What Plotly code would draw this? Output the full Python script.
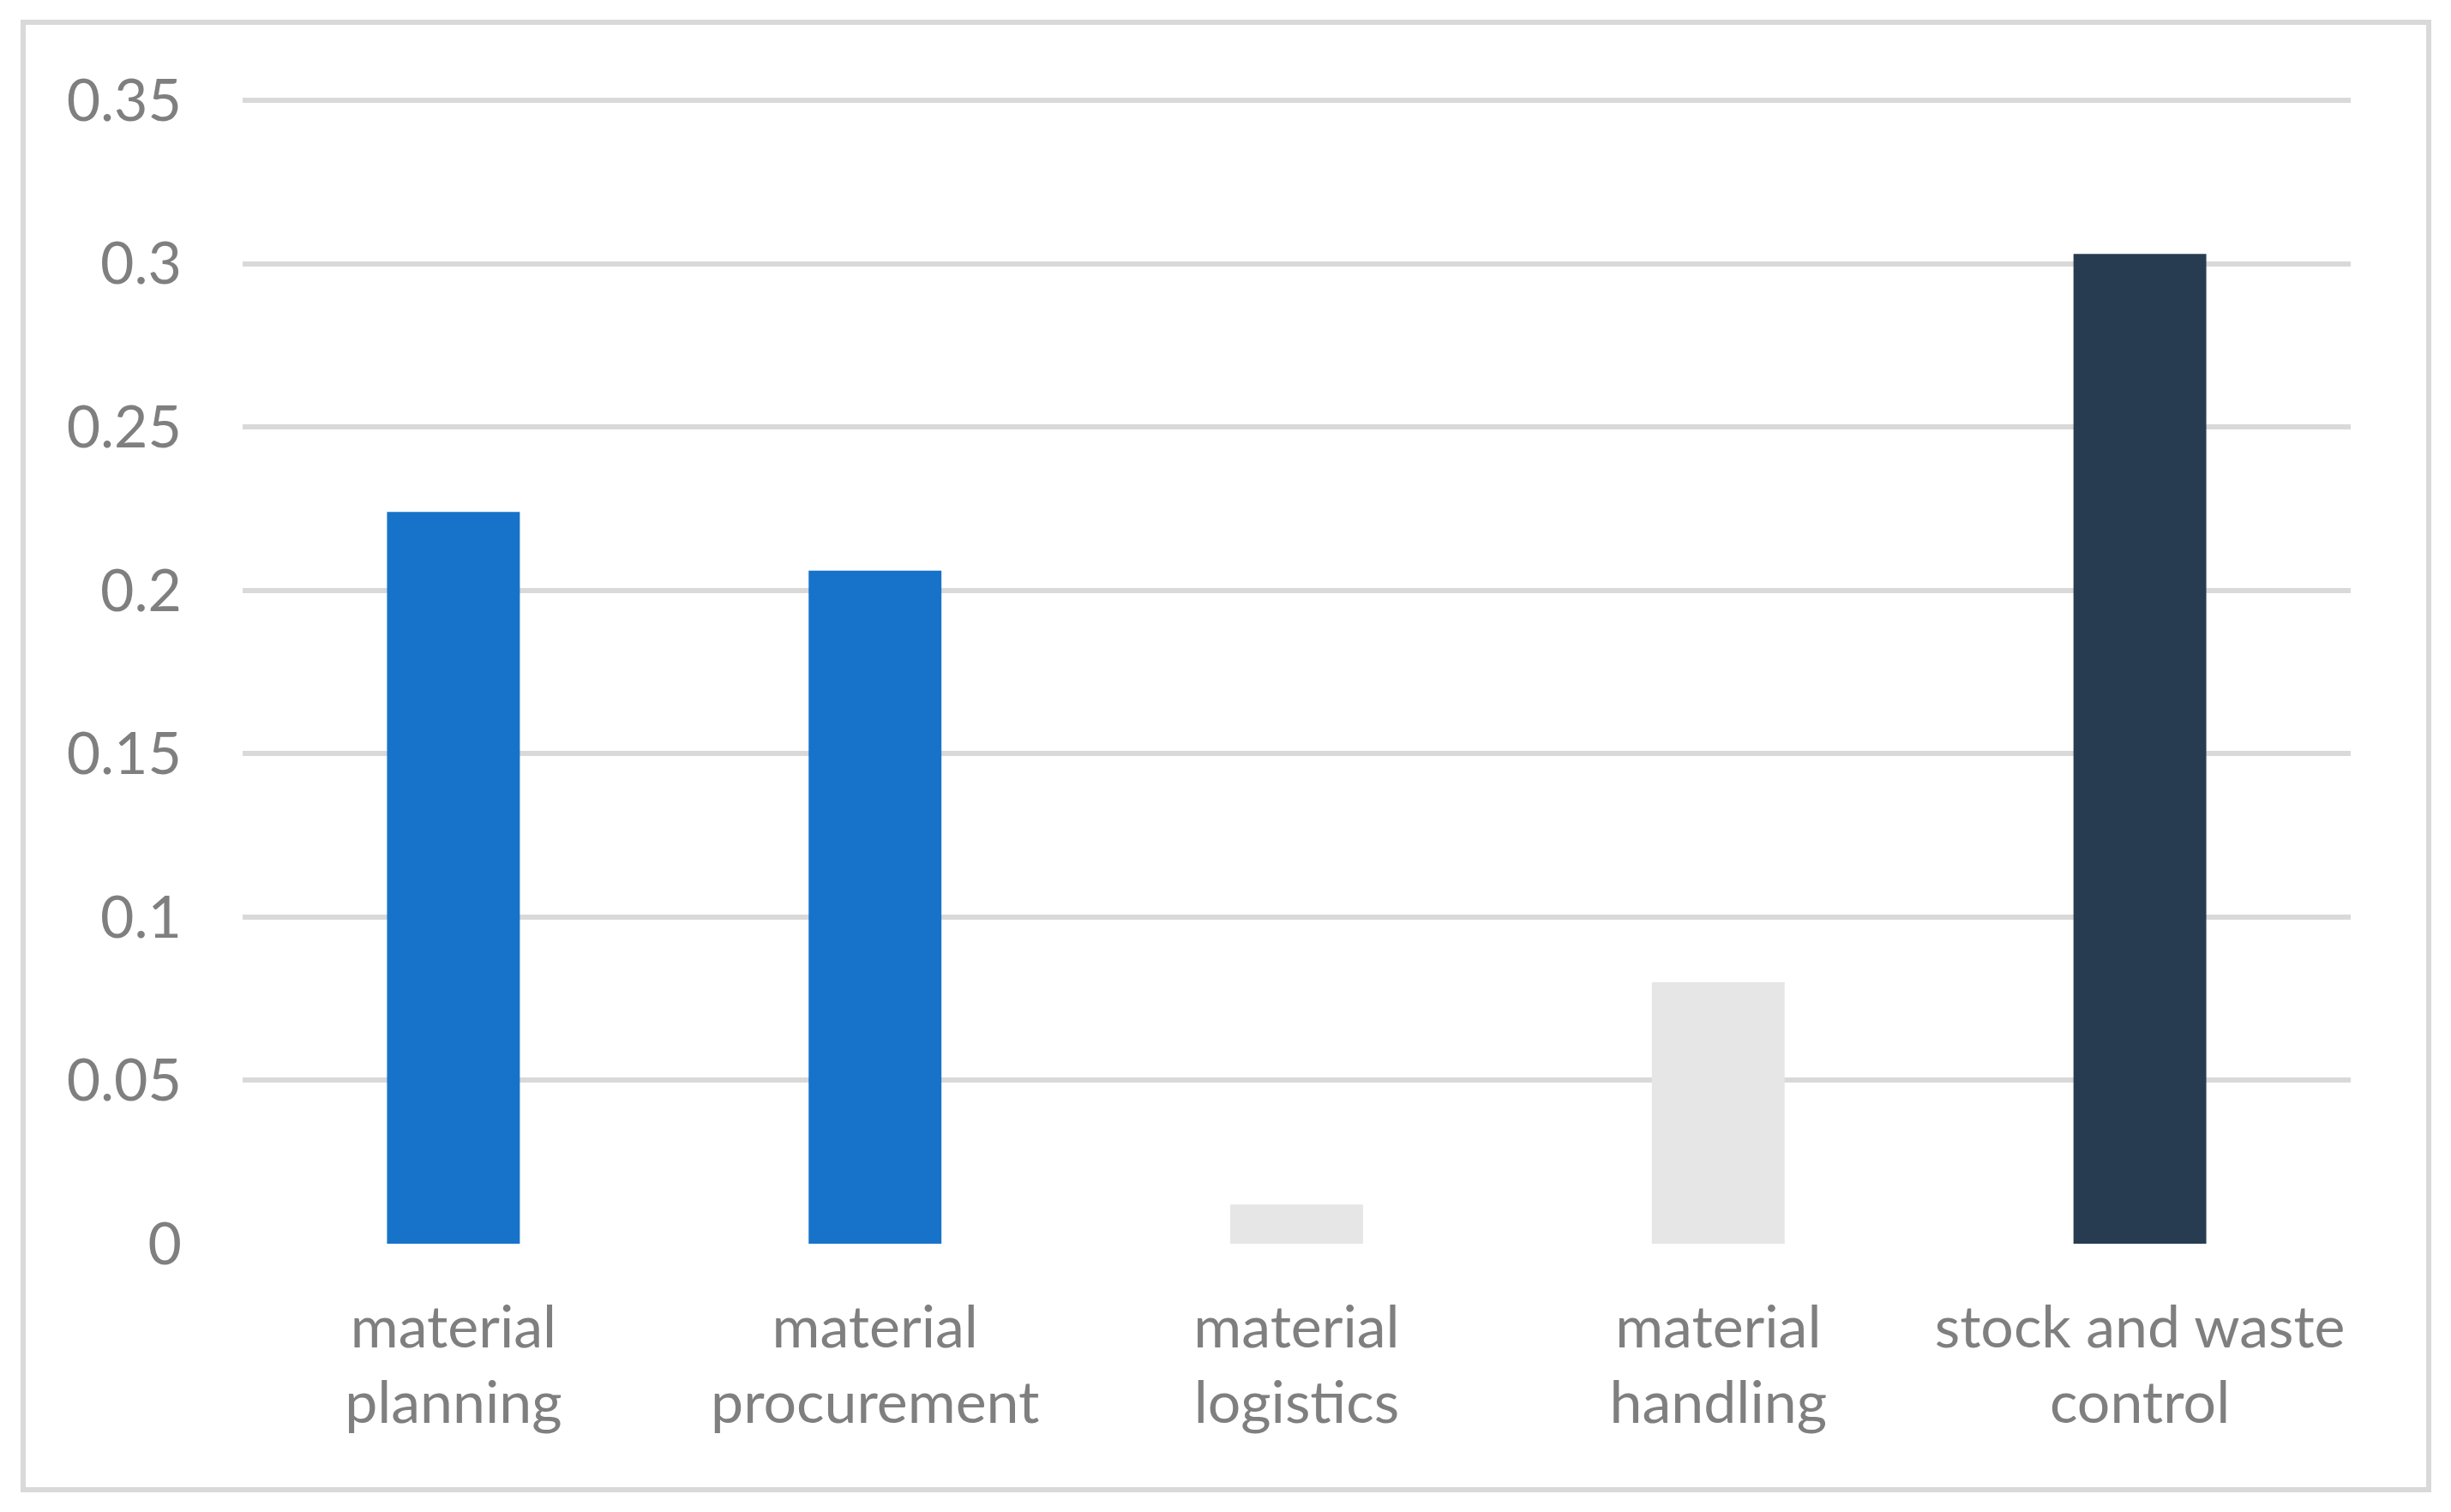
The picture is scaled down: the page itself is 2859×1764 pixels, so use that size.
import plotly.graph_objects as go

categories = ["material<br>planning", "material<br>procurement", "material<br>logistics",
              "material<br>handling", "stock and waste<br>control"]
values = [0.224, 0.206, 0.012, 0.080, 0.303]
bar_colors = ["#1773C9", "#1773C9", "#E6E6E6", "#E6E6E6", "#283C51"]
y_ticks = [0, 0.05, 0.1, 0.15, 0.2, 0.25, 0.3, 0.35]
y_tick_labels = ["0", "0.05", "0.1", "0.15", "0.2", "0.25", "0.3", "0.35"]

OFF = 8  # default page body margin
PAD = 12  # extra headroom so the 0.35 gridline is not clipped at the plot edge
W, H = 2859 - 2 * OFF, 1764 - 2 * OFF
L, T = 283 - OFF, 117 - OFF - PAD
R = W - (2742 - OFF)
B = H - (1451 - OFF)
ymax = 0.35 * (1334 + PAD) / 1334

fig = go.Figure(go.Bar(x=categories, y=values, marker=dict(color=bar_colors, line=dict(width=0)),
                       width=0.315))

fig.update_layout(
    width=W, height=H,
    margin=dict(l=L, r=R, t=T, b=B, autoexpand=False),
    paper_bgcolor="white", plot_bgcolor="white",
    font=dict(family="Lato", size=68, color="#7F7F7F"),
    showlegend=False,
)
fig.update_yaxes(range=[0, ymax], tickvals=y_ticks, ticktext=y_tick_labels,
                 showgrid=True, gridcolor="#D9D9D9", gridwidth=6, zeroline=False,
                 showline=False, ticks="", ticklabelstandoff=70)
fig.update_xaxes(showgrid=False, showline=False, ticks="", ticklabelstandoff=52)

pw, ph = W - L - R, H - T - B
def px2paper_x(px):
    return (px - OFF - L) / pw
def px2paper_y(py):
    return (H - B - (py - OFF)) / ph

fig.add_shape(type="rect", xref="paper", yref="paper",
              x0=px2paper_x(27), x1=px2paper_x(2833), y0=px2paper_y(1738), y1=px2paper_y(26),
              line=dict(color="#D9D9D9", width=6), fillcolor="rgba(0,0,0,0)", layer="below")

fig.write_html("out.html")
